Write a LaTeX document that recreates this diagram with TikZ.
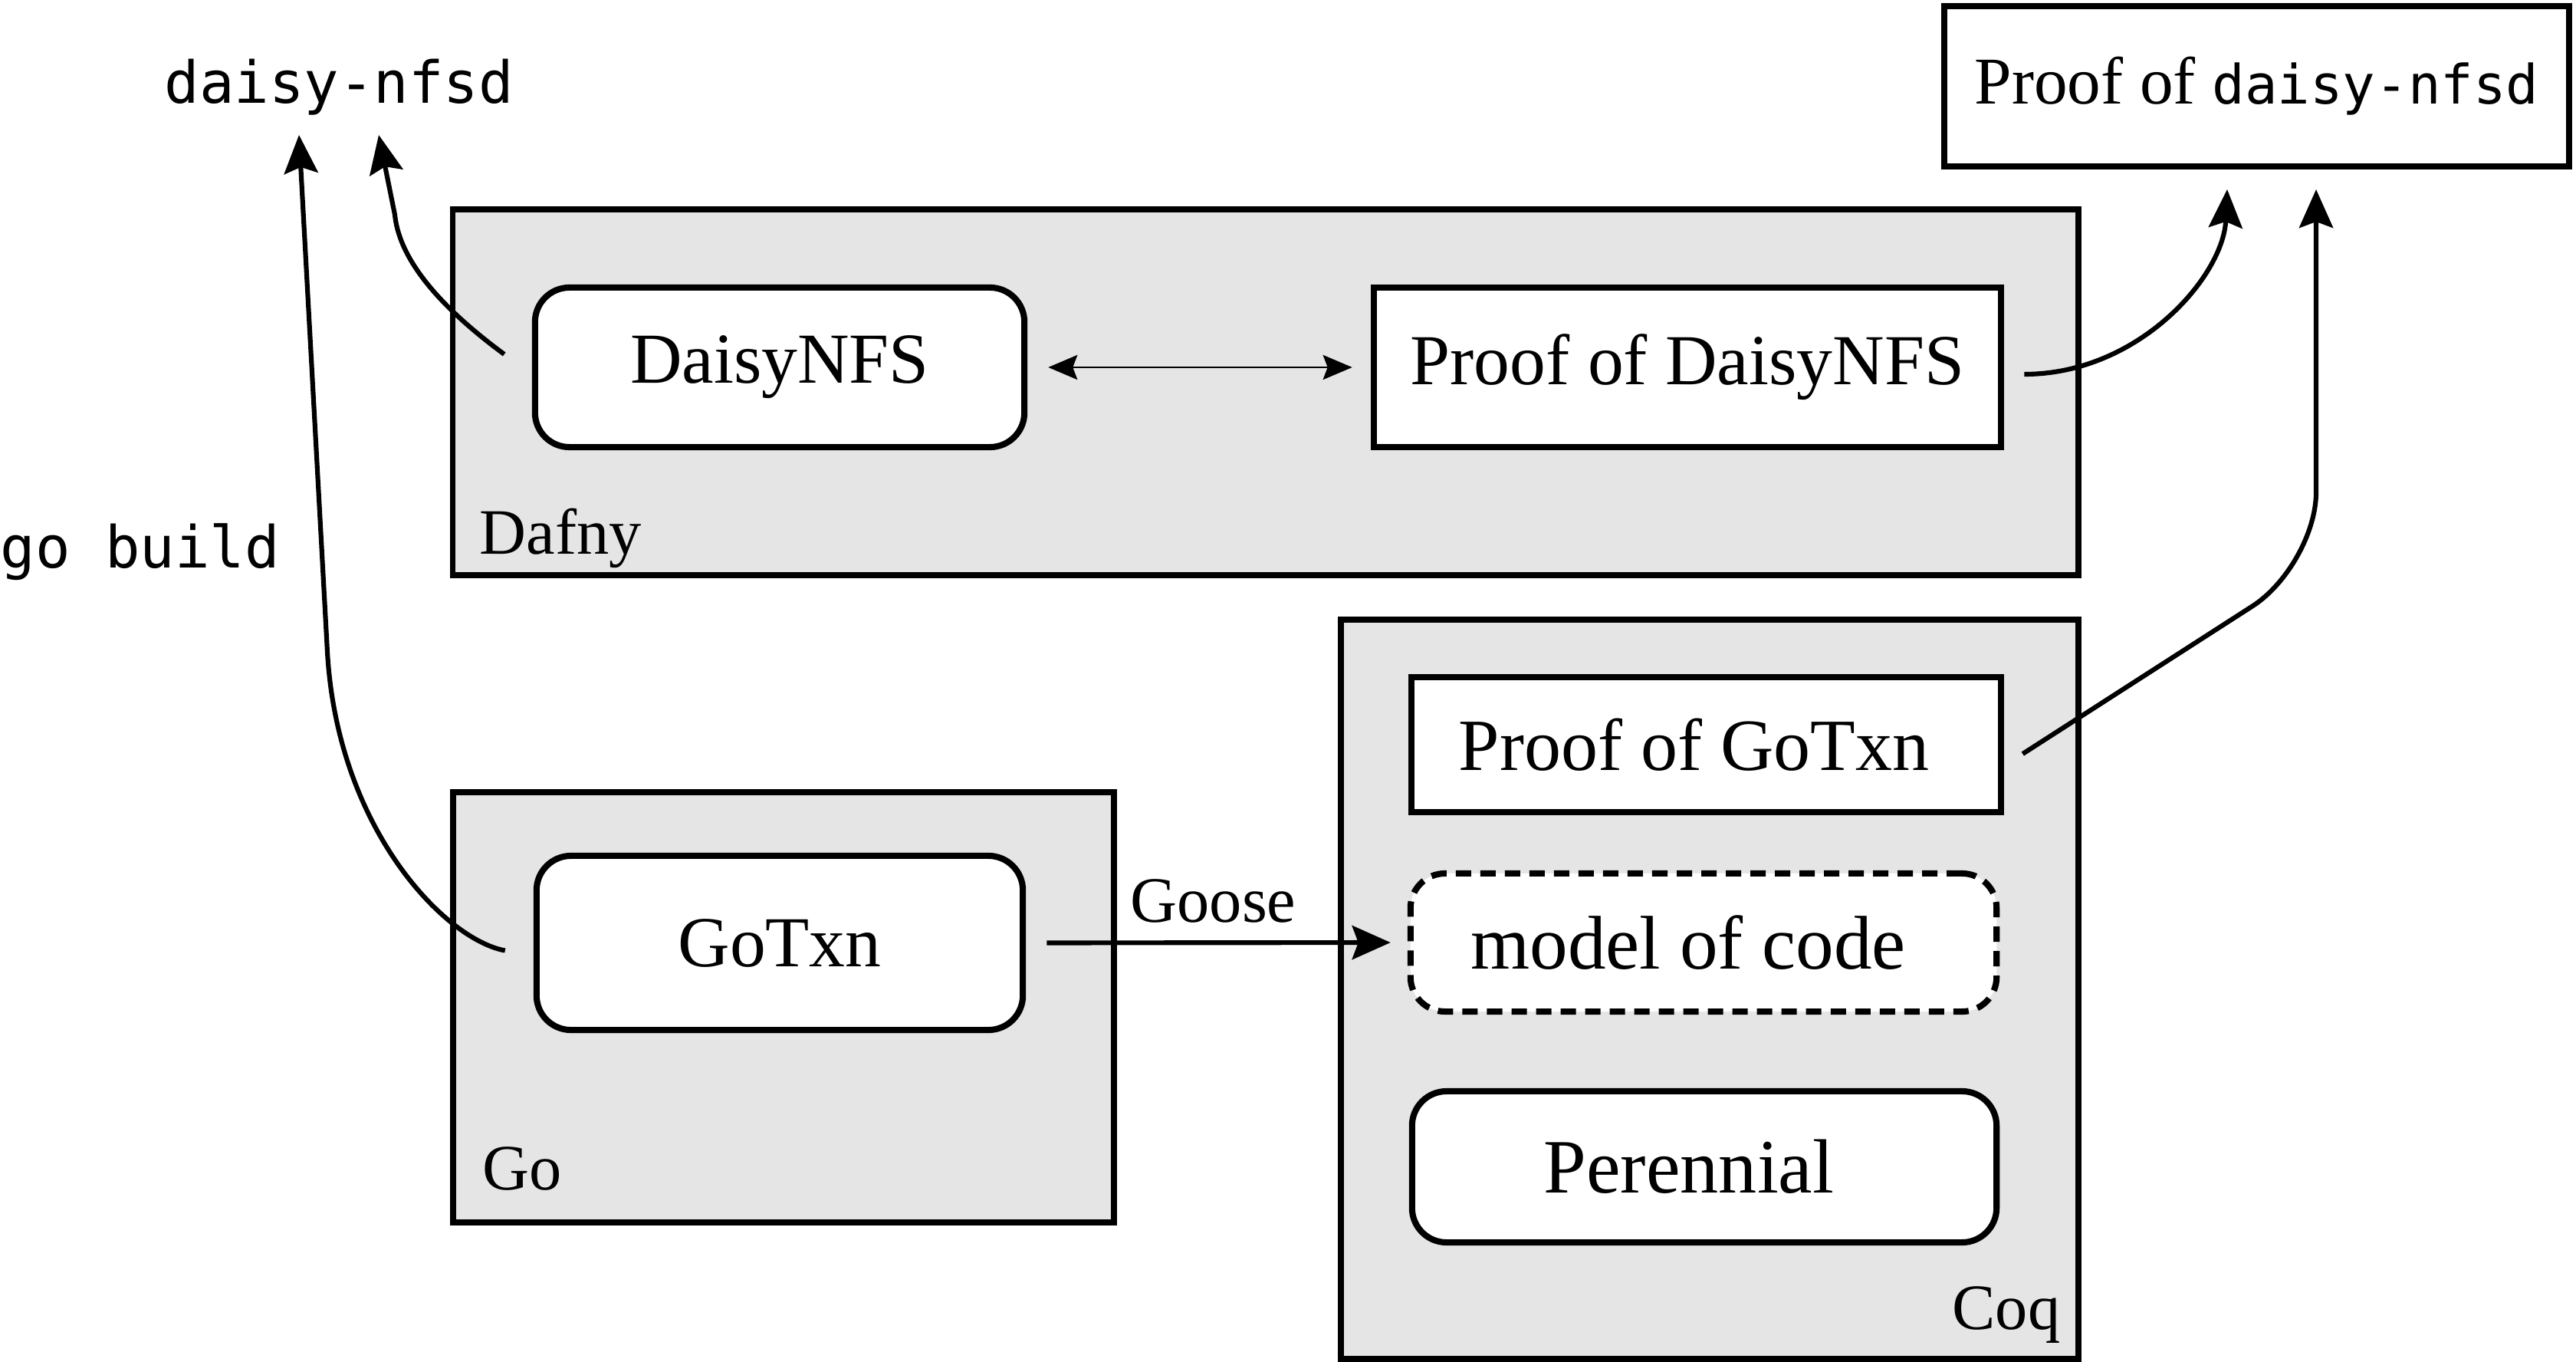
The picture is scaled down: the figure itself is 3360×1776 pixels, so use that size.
\documentclass[tikz,border=0pt]{standalone}
\usepackage{fontspec}
\setmainfont{Liberation Serif}
\newfontfamily\codefont{DejaVu Sans Mono}
\usetikzlibrary{arrows.meta}
\definecolor{contgray}{RGB}{229,229,229}
\begin{document}
\begin{tikzpicture}[x=0.01cm, y=-0.01cm,
  container/.style={draw, line width=2.2pt, fill=contgray, inner sep=0pt},
  boxbase/.style={draw, line width=2.3pt, fill=white, inner sep=0pt, font=\fontsize{26.6pt}{30pt}\selectfont},
  roundbox/.style={boxbase, rounded corners=0.45cm},
  sqbox/.style={boxbase},
  lbl/.style={inner sep=0pt, font=\fontsize{24pt}{28pt}\selectfont},
  codelbl/.style={inner sep=0pt, font=\codefont\fontsize{21.5pt}{26pt}\selectfont},
  arr/.style={line width=1.75pt, -{Stealth[length=0.5cm, width=0.44cm, inset=0.08cm]}},
  dblarr/.style={line width=0.85pt, {Stealth[length=0.38cm, width=0.32cm, inset=0.06cm]}-{Stealth[length=0.38cm, width=0.32cm, inset=0.06cm]}}
]
\useasboundingbox (0,0) rectangle (3360,1776);

% containers
\node[container, minimum width=21.19cm, minimum height=4.77cm] (dafny) at (1650.5,511.5) {};
\node[container, minimum width=8.62cm, minimum height=5.61cm] (go) at (1022,1313.5) {};
\node[container, minimum width=9.62cm, minimum height=9.64cm] (coq) at (2230,1290) {};

% inner boxes
\node[roundbox, minimum width=6.38cm, minimum height=2.08cm] (daisynfs) at (1017,479) {DaisyNFS};
\node[sqbox, minimum width=8.18cm, minimum height=2.08cm] (proofdaisy) at (2201,479) {Proof of DaisyNFS};
\node[roundbox, minimum width=6.34cm, minimum height=2.27cm] (gotxn) at (1017,1229.5) {GoTxn};
\node[sqbox, minimum width=7.69cm, minimum height=1.76cm, font=\fontsize{27.3pt}{31pt}\selectfont] (proofgotxn) at (2225.5,971) {Proof of GoTxn\kern0.32cm};
\node[roundbox, dash pattern=on 0.2cm off 0.12cm, minimum width=7.64cm, minimum height=1.80cm, font=\fontsize{28.2pt}{32pt}\selectfont] (model) at (2222,1229) {model of code\kern0.4cm};
\node[roundbox, minimum width=7.62cm, minimum height=1.97cm, font=\fontsize{28.5pt}{32pt}\selectfont] (perennial) at (2223,1521.5) {Perennial\kern0.4cm};
\node[sqbox, minimum width=8.15cm, minimum height=2.09cm, font=\fontsize{24.8pt}{28pt}\selectfont] (proofdnfsd) at (2943.5,112.5) {Proof of {\codefont\fontsize{20.1pt}{24pt}\selectfont daisy-nfsd}};

% labels
\node[lbl, anchor=base west] (dafnylbl) at (625,722) {Dafny};
\node[lbl, anchor=base west] (golbl) at (629,1551) {Go};
\node[lbl, anchor=base east] (coqlbl) at (2688,1733) {Coq};
\node[lbl, anchor=base west] (gooselbl) at (1474,1202) {Goose};
\node[codelbl, anchor=base west] (daisynfsd) at (214,135) {daisy-nfsd};
\node[codelbl, anchor=base west] (gobuild) at (0,740) {go build};

% arrow tip coordinates
\coordinate (tipbuild) at (390,176);
\coordinate (tipdaisy) at (494,176);
\coordinate (tipproofA) at (2905,247);
\coordinate (tipproofB) at (3021,247);

% connectors
\draw[arr] ([shift={(-0.37cm,-0.1cm)}]gotxn.west) .. controls (580,1225) and (440,1080) .. (427,850) -- (tipbuild);
\draw[arr] ([shift={(-0.36cm,0.17cm)}]daisynfs.west) .. controls (560,390) and (520,330) .. (515,280) -- (tipdaisy);
\draw[arr] ([shift={(0.26cm,-0.09cm)}]proofdaisy.east) .. controls (2790,488) and (2900,360) .. (tipproofA);
\draw[arr] ([shift={(0.24cm,-0.12cm)}]proofgotxn.east) -- (2937,791) .. controls (2983,762) and (3021,695) .. (3021,642) -- (tipproofB);
\draw[arr, shorten <=0.27cm, shorten >=0.22cm] (gotxn.east) -- (model.west);
\draw[dblarr, shorten <=0.27cm, shorten >=0.24cm] (daisynfs.east) -- (proofdaisy.west);
\end{tikzpicture}
\end{document}
